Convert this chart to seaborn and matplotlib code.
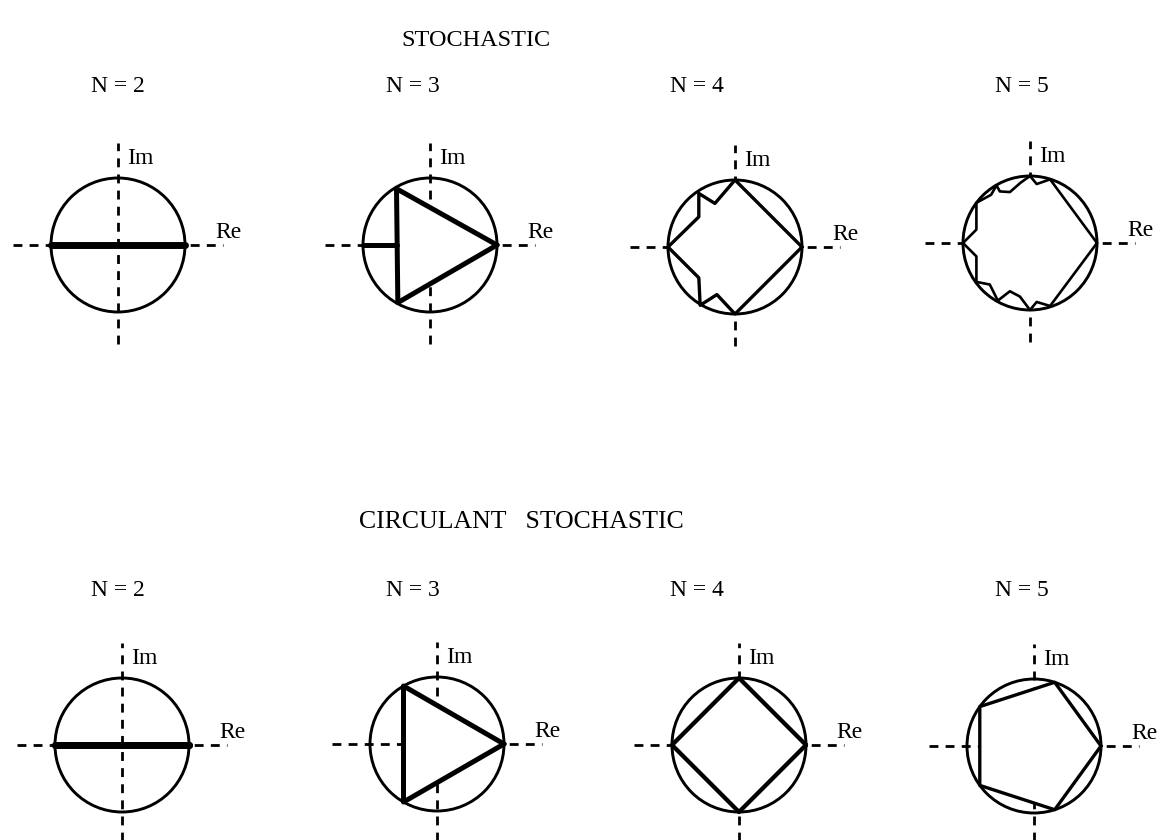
import matplotlib
matplotlib.use("Agg")
import numpy as np
import pandas as pd
import matplotlib.pyplot as plt
from matplotlib.patches import Circle
import seaborn as sns

sns.set_theme(style="white")
plt.rcParams["font.family"] = ["Liberation Serif", "DejaVu Serif"]
plt.rcParams["text.color"] = "black"

# ---- text -------------------------------------------------------------
row_titles = ["STOCHASTIC", "CIRCULANT   STOCHASTIC"]
orders = [2, 3, 4, 5]
order_labels = [f"N = {n}" for n in orders]

# ---- eigenvalue regions of stochastic matrices (boundary vertices) -----
stoch2_x = [-1.0, 1.0]
stoch2_y = [0.0, 0.0]

stoch3_x = [1.0, -0.50, -0.48, 1.0]
stoch3_y = [0.0, 0.84, -0.86, 0.0]
stoch3_spur_x = [-1.0, -0.49]
stoch3_spur_y = [0.0, 0.0]

stoch4_x = [1.0, 0.0, -0.30, -0.54, -0.54, -1.0, -0.54, -0.52, -0.27, 0.0, 1.0]
stoch4_y = [0.0, 1.0, 0.65, 0.80, 0.45, 0.0, -0.46, -0.87, -0.71, -1.0, 0.0]

stoch5_x = [1.0, 0.30, 0.10, 0.0, -0.14, -0.30, -0.45, -0.50, -0.58, -0.80,
            -0.80, -1.0, -0.80, -0.80, -0.60, -0.48, -0.30, -0.15, 0.0, 0.10,
            0.30, 1.0]
stoch5_y = [0.0, 0.95, 0.88, 1.0, 0.90, 0.76, 0.77, 0.86, 0.72, 0.60,
            0.20, 0.0, -0.20, -0.58, -0.62, -0.86, -0.72, -0.80, -1.0, -0.88,
            -0.94, 0.0]

# ---- circulant stochastic: convex hull of the N-th roots of unity -----
circ2_angles = [0, 180]
circ3_angles = [0, 120, 240]
circ4_angles = [0, 90, 180, 270]
circ5_angles = [0, 72, 144, 216, 288]


def hull(angles):
    a = np.deg2rad(list(angles) + [angles[0]])
    return np.cos(a), np.sin(a)


# each panel: region outline first, then any extra boundary strokes
top_regions = [
    [(stoch2_x, stoch2_y)],
    [(stoch3_x, stoch3_y), (stoch3_spur_x, stoch3_spur_y)],
    [(stoch4_x, stoch4_y)],
    [(stoch5_x, stoch5_y)],
]
bottom_regions = [[hull(a)] for a in (circ2_angles, circ3_angles, circ4_angles, circ5_angles)]

top_widths = [5.0, 3.6, 2.4, 1.9]
bottom_widths = [5.0, 3.6, 3.1, 2.4]

# ---- layout (pixels) --------------------------------------------------
W, H = 1159, 840
UNIT = 67.0
HALF = 1.9
top_centres = [(118, 245), (430, 245), (735, 247), (1030, 243)]
bottom_centres = [(122, 745), (437, 744), (739, 745), (1034, 746)]
top_label_x = [118, 413, 697, 1022]
bottom_label_x = [118, 413, 697, 1022]
label_y = [86, 590]
title_pos = [(476, 40), (521, 522)]
title_sizes = [17.5, 18.5]

fig = plt.figure(figsize=(W / 100, H / 100), dpi=100)
fig.patch.set_facecolor("white")

TXT = dict(color="black", fontsize=17)


def panel(cx, cy, paths, lw):
    size = 2 * HALF * UNIT
    ax = fig.add_axes([(cx - size / 2) / W, 1 - (cy + size / 2) / H, size / W, size / H])
    ax.set_xlim(-HALF, HALF)
    ax.set_ylim(-HALF, HALF)
    ax.set_aspect("equal")
    ax.axis("off")
    ax.patch.set_alpha(0)
    dash = dict(color="black", lw=2.0, dashes=(3.2, 2.6), solid_capstyle="butt", zorder=1)
    ax.plot([-1.57, 1.57], [0, 0], **dash)
    ax.plot([0, 0], [-1.48, 1.52], **dash)
    # the region itself is blank: axes are not drawn through it
    xs0, ys0 = paths[0]
    ax.fill(xs0, ys0, color="white", lw=0, zorder=2)
    ax.add_patch(Circle((0, 0), 1.0, fill=False, ec="black", lw=2.1, zorder=3))
    for xs, ys in paths:
        df = pd.DataFrame({"x": xs, "y": ys})
        sns.lineplot(data=df, x="x", y="y", sort=False, estimator=None,
                     color="black", lw=lw, ax=ax, legend=False, zorder=4)
    ax.set_xlabel("")
    ax.set_ylabel("")
    ax.text(0.13, 1.13, "Im", ha="left", va="bottom", **TXT)
    ax.text(1.45, 0.03, "Re", ha="left", va="bottom", **TXT)
    return ax


for (cx, cy), paths, lw in zip(top_centres, top_regions, top_widths):
    panel(cx, cy, paths, lw)
for (cx, cy), paths, lw in zip(bottom_centres, bottom_regions, bottom_widths):
    panel(cx, cy, paths, lw)

for (tx, ty), title, fs in zip(title_pos, row_titles, title_sizes):
    fig.text(tx / W, 1 - ty / H, title, ha="center", va="center", fontsize=fs, color="black")
for row, xs in enumerate([top_label_x, bottom_label_x]):
    for x, lab in zip(xs, order_labels):
        fig.text(x / W, 1 - label_y[row] / H, lab, ha="center", va="center", fontsize=17, color="black")

fig.savefig("out.png", dpi=100, facecolor="white")
